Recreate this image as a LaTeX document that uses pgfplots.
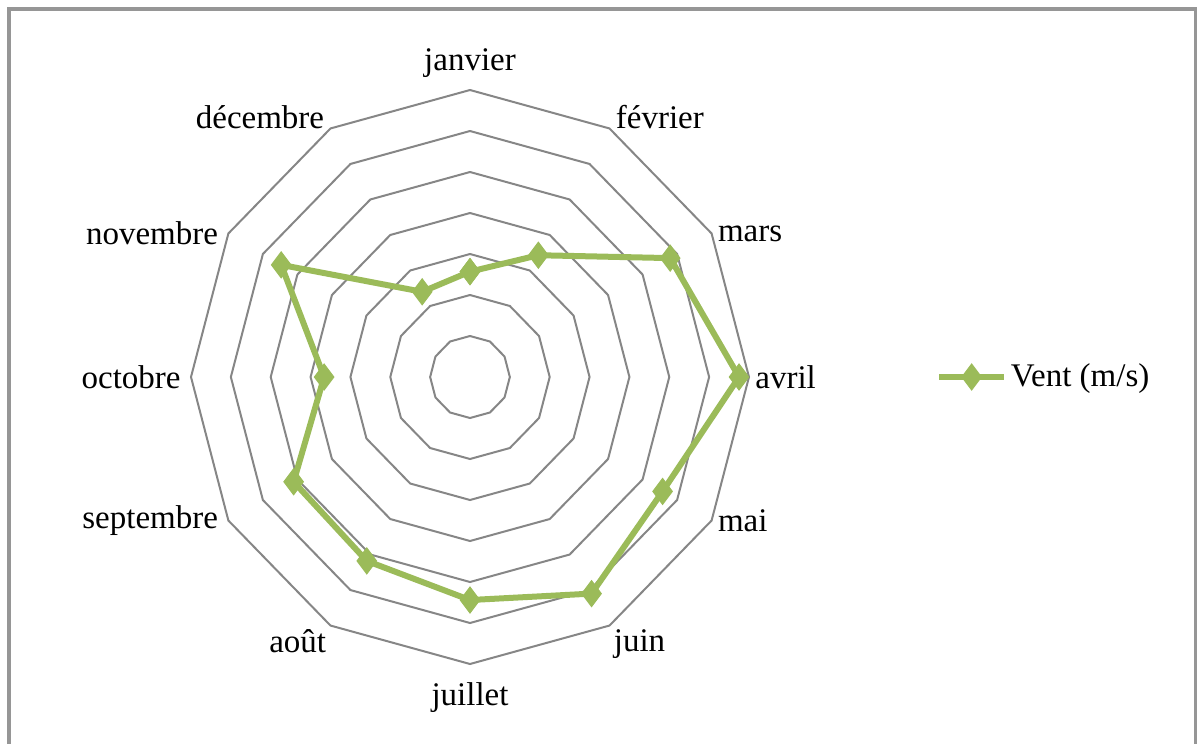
\documentclass[border=0pt]{standalone}
\usepackage{fontspec}
\setmainfont{Liberation Serif}
\usepackage{pgfplots}
\pgfplotsset{compat=1.18}
\usepgfplotslibrary{polar}

\definecolor{ventgreen}{RGB}{155,187,89}
\definecolor{ringgray}{RGB}{134,134,134}
\definecolor{framegray}{RGB}{150,150,150}

\begin{document}
\begin{tikzpicture}[font=\fontsize{16.5bp}{20bp}\selectfont]
  % picture area: 1202 x 744 px at 0.5bp per px
  \useasboundingbox (0,0) rectangle (601bp,-372bp);
  \draw[framegray, line width=1.6bp] (4.5bp,-420bp) -- (4.5bp,-4.5bp) -- (597.8bp,-4.5bp) -- (597.8bp,-420bp);

  \begin{polaraxis}[
      at={(235bp,-188.5bp)}, anchor=origin,
      scale only axis, width=279bp, height=287bp,
      ymin=0, ymax=7, xmin=0, xmax=360,
      hide axis, clip=false,
      legend style={at={(axis description cs:1.335,0.5)}, anchor=west,
        draw=none, fill=none, inner sep=0pt,
        font=\fontsize{16.5bp}{20bp}\selectfont},
      legend cell align=left,
      legend image code/.code={
        \draw[mark repeat=2, mark phase=2, #1]
          plot coordinates {(0cm,0cm) (0.57cm,0cm) (1.14cm,0cm)};
      },
    ]
    % grid rings
    \pgfplotsinvokeforeach{1,...,7}{
      \addplot[ringgray, line width=1bp, no markers, forget plot]
        coordinates {(90,#1) (60,#1) (30,#1) (0,#1) (330,#1) (300,#1)
                     (270,#1) (240,#1) (210,#1) (180,#1) (150,#1) (120,#1) (90,#1)};
    }

    % wind data
    \addplot[ventgreen, line width=3bp, mark=diamond*, mark size=6.5bp,
             mark options={solid, fill=ventgreen, draw=ventgreen, line width=0.5bp}]
      coordinates {
        (90,2.57)  % janvier
        (60,3.43)  % fevrier
        (30,5.80)  % mars
        (0,6.75)   % avril
        (330,5.58) % mai
        (300,6.10) % juin
        (270,5.44) % juillet
        (240,5.18) % aout
        (210,5.11) % septembre
        (180,3.66) % octobre
        (150,5.47) % novembre
        (120,2.40) % decembre
        (90,2.57)
      };
    \addlegendentry{Vent (m/s)}

    % month labels
    \node[anchor=south, inner sep=6bp] at (axis cs:90,7) {janvier};
    \node[anchor=base west, inner sep=3bp] at (axis cs:60,7) {février};
    \node[anchor=west, inner sep=3bp] at (axis cs:30,7) {mars};
    \node[anchor=west, inner sep=3bp] at (axis cs:0,7) {avril};
    \node[anchor=west, inner sep=3bp] at (axis cs:330,7) {mai};
    \node[anchor=north west, inner sep=2bp] at (axis cs:300,7) {juin};
    \node[anchor=north, inner sep=9bp] at (axis cs:270,7) {juillet};
    \node[anchor=north east, inner sep=2bp] at (axis cs:240,7) {août};
    \node[anchor=east, inner sep=5bp] at (axis cs:210,7) {septembre};
    \node[anchor=east, inner sep=5bp] at (axis cs:180,7) {octobre};
    \node[anchor=east, inner sep=5bp] at (axis cs:150,7) {novembre};
    \node[anchor=base east, inner sep=3bp] at (axis cs:120,7) {décembre};
  \end{polaraxis}
\end{tikzpicture}
\end{document}
